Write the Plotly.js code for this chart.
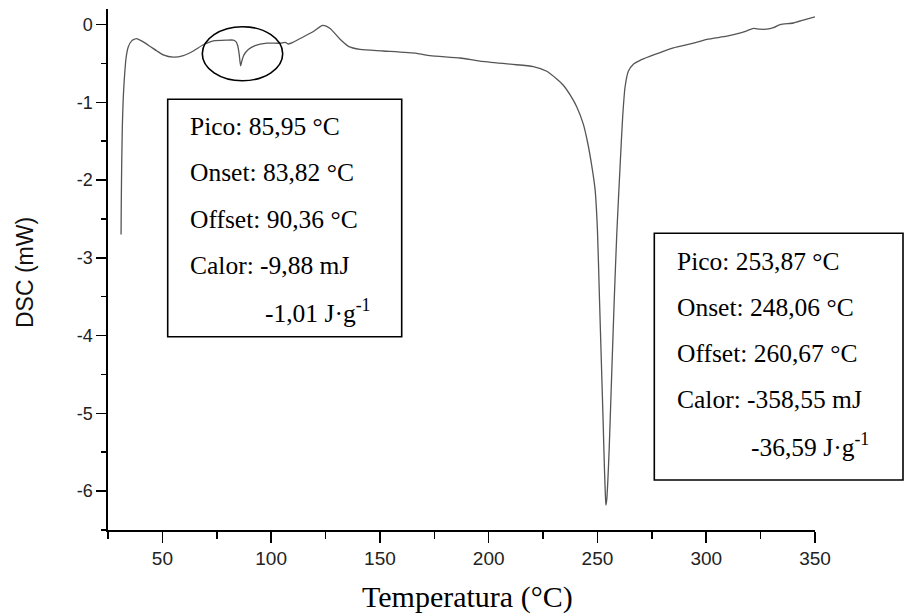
<!DOCTYPE html>
<html>
<head>
<meta charset="utf-8">
<script src="https://cdn.plot.ly/plotly-3.0.1.min.js"></script>
<style>
  html, body { margin: 0; padding: 0; background: #ffffff; }
  #chart { width: 907px; height: 616px; }
</style>
</head>
<body>
<div id="chart"></div>
<script>
// DSC heating curve: temperature (°C) and heat flow (mW)
const temperature = [31.0, 31.1, 31.3, 31.6, 32.0, 32.5, 33.3, 34.3, 35.9, 38.2,
  41.0, 44.3, 47.5, 50.4, 55.0, 59.6, 64.2, 68.8, 73.4, 79.6,
  82.6, 83.8, 84.6, 85.3, 85.95, 86.6, 87.5, 89.5, 92.6, 98.0,
  104.1, 106.5, 108.0, 110.0, 113.3, 119.4, 123.7, 127.1, 131.7, 135.5,
  140.9, 151.6, 166.9, 173.0, 186.8, 196.0, 210.0, 220.5, 226.7, 231.3,
  234.3, 238.0, 240.5, 243.5, 245.5, 247.4, 248.9, 250.0, 250.9, 251.8,
  252.6, 253.2, 253.6, 253.87, 254.3, 254.8, 255.4, 256.3, 257.7, 258.9,
  260.4, 261.6, 262.7, 264.2, 266.5, 269.6, 274.0, 278.8, 284.9, 294.1,
  300.3, 309.5, 314.0, 318.7, 321.7, 324.5, 327.8, 330.9, 334.0, 340.1,
  345.0, 350.0];
const dsc = [-2.70, -2.30, -1.80, -1.30, -0.95, -0.70, -0.43, -0.29, -0.21, -0.18,
  -0.22, -0.28, -0.34, -0.39, -0.42, -0.40, -0.34, -0.26, -0.21, -0.20,
  -0.20, -0.22, -0.27, -0.38, -0.53, -0.46, -0.39, -0.32, -0.27, -0.24,
  -0.24, -0.23, -0.25, -0.23, -0.18, -0.09, -0.01, -0.05, -0.19, -0.28,
  -0.32, -0.34, -0.37, -0.40, -0.43, -0.47, -0.51, -0.54, -0.60, -0.70,
  -0.78, -0.93, -1.06, -1.28, -1.52, -1.82, -2.12, -2.65, -3.50, -4.35,
  -5.10, -5.70, -6.02, -6.18, -6.10, -5.85, -5.45, -4.70, -3.55, -2.68,
  -1.82, -1.18, -0.80, -0.60, -0.51, -0.46, -0.41, -0.36, -0.30, -0.24,
  -0.19, -0.15, -0.12, -0.08, -0.05, -0.06, -0.06, -0.04, 0.00, 0.02,
  0.06, 0.10];

// Tick values
const xTicks = [50, 100, 150, 200, 250, 300, 350];
const yTicks = [-6, -5, -4, -3, -2, -1, 0];

// Annotation boxes for the two thermal events
const smallEventLines = ['Pico: 85,95 °C', 'Onset: 83,82 °C', 'Offset: 90,36 °C', 'Calor: -9,88 mJ'];
const smallEventEnthalpy = '-1,01 J·g<sup>-1</sup>';
const meltEventLines = ['Pico: 253,87 °C', 'Onset: 248,06 °C', 'Offset: 260,67 °C', 'Calor: -358,55 mJ'];
const meltEventEnthalpy = '-36,59 J·g<sup>-1</sup>';

// Plot-area geometry in page pixels
const W = 907, H = 616;
const M = { l: 108, r: 92, t: 9, b: 86 };
const plotW = W - M.l - M.r, plotH = H - M.t - M.b;
const px = p => (p - M.l) / plotW;          // page x -> paper x
const py = p => (H - M.b - p) / plotH;      // page y -> paper y

const serif = 'Liberation Serif, Times New Roman, serif';
const sans = 'Liberation Sans, Arial, sans-serif';
const boxFont = { family: serif, size: 25.5, color: '#000' };

function boxText(lines, last, left, lastLeft, firstBaseline, step) {
  const out = [];
  lines.forEach((t, i) => {
    out.push({ text: t, xref: 'paper', yref: 'paper', x: px(left), y: py(firstBaseline + i * step - 8.5),
      xanchor: 'left', yanchor: 'middle', showarrow: false, font: boxFont });
  });
  out.push({ text: last, xref: 'paper', yref: 'paper', x: px(lastLeft), y: py(firstBaseline + lines.length * step - 8.5),
    xanchor: 'left', yanchor: 'middle', showarrow: false, font: boxFont });
  return out;
}

const annotations = [
  ...boxText(smallEventLines, smallEventEnthalpy, 188, 263, 135, 46.3),
  ...boxText(meltEventLines, meltEventEnthalpy, 675, 749, 270, 46),
  { text: 'DSC (mW)', xref: 'paper', yref: 'paper', x: px(25), y: py(273), textangle: -90,
    xanchor: 'center', yanchor: 'middle', showarrow: false, font: { family: sans, size: 23, color: '#111' } },
  { text: 'Temperatura (°C)', xref: 'paper', yref: 'paper', x: px(467), y: py(597),
    xanchor: 'center', yanchor: 'middle', showarrow: false, font: { family: serif, size: 30, color: '#000' } }
];

const shapes = [
  { type: 'rect', xref: 'paper', yref: 'paper', x0: px(167.7), x1: px(401.7), y0: py(336.7), y1: py(99.3),
    line: { color: '#000', width: 1.6 }, fillcolor: 'rgba(0,0,0,0)' },
  { type: 'rect', xref: 'paper', yref: 'paper', x0: px(654.3), x1: px(903), y0: py(480), y1: py(233.3),
    line: { color: '#000', width: 1.6 }, fillcolor: 'rgba(0,0,0,0)' },
  { type: 'circle', xref: 'paper', yref: 'paper', x0: px(202.3), x1: px(282.7), y0: py(80.7), y1: py(26.7),
    line: { color: '#000', width: 1.6 } }
];

const trace = {
  x: temperature, y: dsc, type: 'scatter', mode: 'lines',
  line: { color: '#555', width: 1.3, shape: 'spline', smoothing: 0.6 },
  hoverinfo: 'skip', showlegend: false
};

const layout = {
  width: W, height: H, margin: M,
  paper_bgcolor: '#fff', plot_bgcolor: '#fff',
  showlegend: false,
  xaxis: {
    range: [25, 350], tickmode: 'array', tickvals: xTicks, ticktext: xTicks.map(String),
    showgrid: false, zeroline: false, showline: true, linecolor: '#000', linewidth: 1.6,
    ticks: 'outside', ticklen: 11, tickwidth: 1.5, tickcolor: '#000',
    tickfont: { family: sans, size: 19, color: '#222' },
    minor: { dtick: 25, tick0: 0, ticks: 'outside', ticklen: 7, tickwidth: 1.5, tickcolor: '#000', showgrid: false }
  },
  yaxis: {
    range: [-6.5, 0.2], tickmode: 'array', tickvals: yTicks, ticktext: yTicks.map(String),
    showgrid: false, zeroline: false, showline: true, linecolor: '#000', linewidth: 1.6,
    ticks: 'outside', ticklen: 10, tickwidth: 1.5, tickcolor: '#000',
    tickfont: { family: sans, size: 18, color: '#222' },
    minor: { dtick: 0.5, tick0: 0, ticks: 'outside', ticklen: 5, tickwidth: 1.5, tickcolor: '#000', showgrid: false }
  },
  annotations: annotations,
  shapes: shapes
};

Plotly.newPlot('chart', [trace], layout, { staticPlot: true, displayModeBar: false });
</script>
</body>
</html>
